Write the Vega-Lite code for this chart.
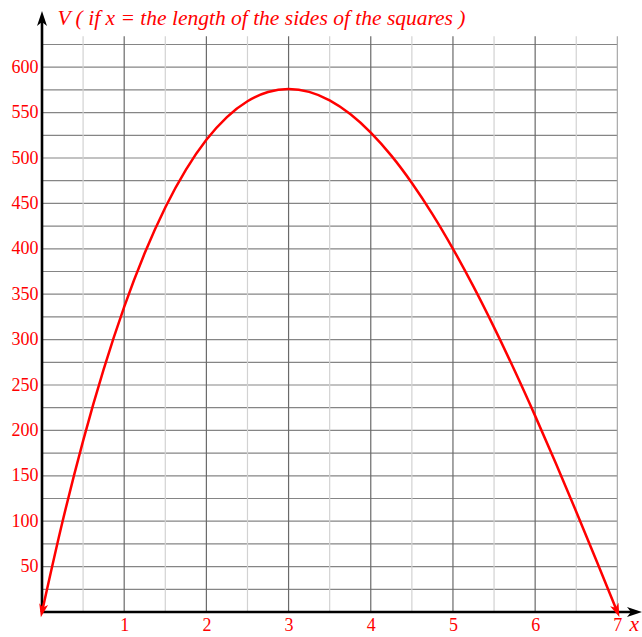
{
  "$schema": "https://vega.github.io/schema/vega-lite/v6.json",
  "width": 600,
  "height": 602,
  "autosize": {"type": "none"},
  "padding": {"left": 42, "top": 10, "right": 0, "bottom": 25},
  "background": "white",
  "config": {
    "view": {"stroke": null},
    "axis": {
      "domain": false, "ticks": false, "grid": false,
      "labelColor": "#ff0000", "labelFont": "Liberation Serif", "labelFontSize": 18,
      "labelFlush": false, "labelOverlap": false, "format": "d",
      "titleFont": "Liberation Serif", "titleFontSize": 21.5,
      "titleFontStyle": "italic", "titleFontWeight": "normal", "titleColor": "#ff0000",
      "titleAngle": 0, "titleAlign": "left", "titleBaseline": "alphabetic"
    },
    "axisX": {"labelBaseline": "alphabetic", "labelPadding": 18.5, "titleX": 587, "titleY": 18},
    "axisY": {"labelPadding": 4, "titleX": 15, "titleY": 14}
  },
  "datasets": {
    "curve": [
      {"x": 0, "y": 0}, {"x": 0.25, "y": 99.6}, {"x": 0.5, "y": 188.5}, {"x": 0.75, "y": 267.2},
      {"x": 1, "y": 336}, {"x": 1.25, "y": 395.3}, {"x": 1.5, "y": 445.5}, {"x": 1.75, "y": 486.9},
      {"x": 2, "y": 520}, {"x": 2.25, "y": 545.1}, {"x": 2.5, "y": 562.5}, {"x": 2.75, "y": 572.7},
      {"x": 3, "y": 576}, {"x": 3.25, "y": 572.8}, {"x": 3.5, "y": 563.5}, {"x": 3.75, "y": 548.4},
      {"x": 4, "y": 528}, {"x": 4.25, "y": 502.6}, {"x": 4.5, "y": 472.5}, {"x": 4.75, "y": 438.2},
      {"x": 5, "y": 400}, {"x": 5.25, "y": 358.3}, {"x": 5.5, "y": 313.5}, {"x": 5.75, "y": 265.9},
      {"x": 6, "y": 216}, {"x": 6.25, "y": 164.1}, {"x": 6.5, "y": 110.5}, {"x": 6.75, "y": 55.7},
      {"x": 7, "y": 0}
    ],
    "vgrid": [
      {"x": 0.5, "kind": "minor"}, {"x": 1, "kind": "major"}, {"x": 1.5, "kind": "minor"},
      {"x": 2, "kind": "major"}, {"x": 2.5, "kind": "minor"}, {"x": 3, "kind": "major"},
      {"x": 3.5, "kind": "minor"}, {"x": 4, "kind": "major"}, {"x": 4.5, "kind": "minor"},
      {"x": 5, "kind": "major"}, {"x": 5.5, "kind": "minor"}, {"x": 6, "kind": "major"},
      {"x": 6.5, "kind": "minor"}, {"x": 7, "kind": "edge"}
    ],
    "hgrid": [
      {"y": 25}, {"y": 50}, {"y": 75}, {"y": 100}, {"y": 125}, {"y": 150}, {"y": 175}, {"y": 200},
      {"y": 225}, {"y": 250}, {"y": 275}, {"y": 300}, {"y": 325}, {"y": 350}, {"y": 375}, {"y": 400},
      {"y": 425}, {"y": 450}, {"y": 475}, {"y": 500}, {"y": 525}, {"y": 550}, {"y": 575}, {"y": 600},
      {"y": 625}
    ]
  },
  "layer": [
    {
      "data": {"name": "hgrid"},
      "mark": {"type": "rule", "color": "#858585", "strokeWidth": 1.2},
      "encoding": {
        "y": {"field": "y", "type": "quantitative"},
        "x": {"datum": 0, "type": "quantitative"},
        "x2": {"datum": 7}
      }
    },
    {
      "data": {"name": "vgrid"},
      "mark": {"type": "rule", "strokeWidth": 1.2},
      "encoding": {
        "x": {"field": "x", "type": "quantitative"},
        "y": {"datum": 0, "type": "quantitative"},
        "y2": {"datum": 634},
        "color": {"field": "kind", "type": "nominal", "legend": null,
          "scale": {"domain": ["major", "minor", "edge"], "range": ["#6a6a6a", "#d2d2d2", "#a8a8a8"]}}
      }
    },
    {
      "data": {"values": [{"x": 0, "y": 0}]},
      "mark": {"type": "rule", "color": "black", "strokeWidth": 2.6},
      "encoding": {
        "x": {"field": "x", "type": "quantitative"},
        "y": {"field": "y", "type": "quantitative"},
        "y2": {"datum": 650}
      }
    },
    {
      "data": {"values": [{"x": 0, "y": 0}]},
      "mark": {"type": "rule", "color": "black", "strokeWidth": 2.6},
      "encoding": {
        "x": {"field": "x", "type": "quantitative"},
        "x2": {"datum": 7.2},
        "y": {"field": "y", "type": "quantitative"}
      }
    },
    {
      "data": {"name": "curve"},
      "mark": {"type": "line", "color": "#ff0000", "strokeWidth": 2.5, "interpolate": "monotone"},
      "encoding": {
        "x": {
          "field": "x", "type": "quantitative",
          "scale": {"domain": [0, 7.3], "nice": false, "zero": false},
          "axis": {"values": [1, 2, 3, 4, 5, 6, 7], "title": "x"}
        },
        "y": {
          "field": "y", "type": "quantitative",
          "scale": {"domain": [0, 663], "nice": false, "zero": false},
          "axis": {
            "values": [50, 100, 150, 200, 250, 300, 350, 400, 450, 500, 550, 600],
            "title": "V ( if x = the length of the sides of the squares )"
          }
        }
      }
    },
    {
      "data": {"values": [{"x": 0, "y": 0}]},
      "mark": {"type": "point", "filled": true, "opacity": 1, "color": "#ff0000", "size": 324,
        "shape": "M0,-0.6L0.5,0.9L0,0.5L-0.5,0.9Z", "angle": 192},
      "encoding": {
        "x": {"field": "x", "type": "quantitative"},
        "y": {"field": "y", "type": "quantitative"}
      }
    },
    {
      "data": {"values": [{"x": 7, "y": 0}]},
      "mark": {"type": "point", "filled": true, "opacity": 1, "color": "#ff0000", "size": 324,
        "shape": "M0,-0.6L0.5,0.9L0,0.5L-0.5,0.9Z", "angle": 158},
      "encoding": {
        "x": {"field": "x", "type": "quantitative"},
        "y": {"field": "y", "type": "quantitative"}
      }
    },
    {
      "data": {"values": [{"x": 0, "y": 662}]},
      "mark": {"type": "point", "filled": true, "opacity": 1, "color": "black", "size": 400,
        "shape": "M0,0L0.5,1.5L0,1.1L-0.5,1.5Z", "angle": 0},
      "encoding": {
        "x": {"field": "x", "type": "quantitative"},
        "y": {"field": "y", "type": "quantitative"}
      }
    },
    {
      "data": {"values": [{"x": 7.3, "y": 0}]},
      "mark": {"type": "point", "filled": true, "opacity": 1, "color": "black", "size": 400,
        "shape": "M0,0L0.5,1.5L0,1.1L-0.5,1.5Z", "angle": 90},
      "encoding": {
        "x": {"field": "x", "type": "quantitative"},
        "y": {"field": "y", "type": "quantitative"}
      }
    }
  ]
}
